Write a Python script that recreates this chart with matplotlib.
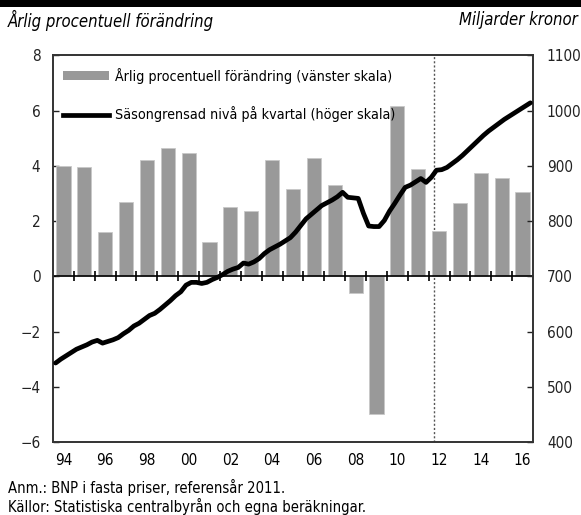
import numpy as np
import matplotlib
matplotlib.use("Agg")
import matplotlib.pyplot as plt
from matplotlib import font_manager
from matplotlib.font_manager import FontProperties
from matplotlib.patches import Patch, Rectangle
from matplotlib.lines import Line2D

# data
years = list(range(1994, 2017))
growth = [4.0, 3.95, 1.6, 2.7, 4.2, 4.65, 4.45, 1.25, 2.5, 2.35, 4.22, 3.15,
          4.3, 3.3, -0.6, -5.0, 6.15, 3.9, 1.63, 2.67, 3.75, 3.55, 3.05]
# seasonally adjusted quarterly level, 1994Q1 - 2016Q4
level = [543, 550, 556, 562,   568, 572, 576, 581,   584, 579, 582, 585,
         589, 596, 602, 610,   615, 622, 629, 633,   640, 648, 656, 665,
         672, 684, 689, 689,   687, 689, 694, 698,   703, 709, 713, 716,
         724, 722, 726, 732,   741, 748, 753, 758,   764, 770, 780, 792,
         804, 812, 820, 828,   833, 838, 844, 852,   843, 842, 841, 814,
         791, 790, 790, 801,   818, 832, 847, 861,   865, 871, 877, 870,
         879, 892, 893, 897,   904, 911, 919, 928,   937, 946, 955, 963,
         970, 977, 984, 990,   996, 1002, 1008, 1014]
forecast_start = 2011.76
xlabels = ["94", "96", "98", "00", "02", "04", "06", "08", "10", "12", "14", "16"]


def find_font(italic=False):
    # look for a narrow / condensed face, the reference uses a condensed font
    prefs = ["Liberation Sans Narrow", "DejaVu Sans", "Roboto", "Noto Sans", "Open Sans"]
    for fam in prefs:
        for f in font_manager.fontManager.ttflist:
            if f.name != fam:
                continue
            fn = f.fname.lower()
            if not ("narrow" in fn or "condensed" in fn or "cond" in fn):
                continue
            if "bold" in fn or "light" in fn or "mono" in fn or "semi" in fn or "extra" in fn:
                continue
            is_it = ("italic" in fn or "oblique" in fn)
            if is_it == italic:
                return FontProperties(fname=f.fname), True
    return FontProperties(family="DejaVu Sans", style="italic" if italic else "normal"), False


fp, has_narrow = find_font()
fpi, has_narrow_i = find_font(italic=True)
k = 1.0 if has_narrow else 0.8
ki = 1.0 if has_narrow_i else 0.8

bar_color = "#999999"

fig = plt.figure(figsize=(5.81, 5.15), dpi=100)
ax = fig.add_axes([0.0912, 0.1417, 0.8262, 0.7509])
ax2 = ax.twinx()

ax.bar(years, growth, width=0.68, color=bar_color, edgecolor="#c8c8c8", linewidth=0.6, zorder=2)
ax.set_xlim(1993.5, 2016.5)
ax.set_ylim(-6, 8)
ax.set_yticks(range(-6, 9, 2))

# zero line with crossing ticks between years
ax.axhline(0, color="black", lw=1.2, zorder=3)
bounds = np.arange(1994.5, 2016.5, 1)
ax.plot(bounds, np.zeros(len(bounds)), ls="none", marker="|", ms=7, mew=1.2, color="black", zorder=3)

ax.axvline(forecast_start, color="#555555", lw=1, ls=(0, (1.5, 1.5)), zorder=1)

qx = 1993.5 + 0.125 + 0.25 * np.arange(len(level))
ax2.plot(qx, level, color="black", lw=3.4, solid_capstyle="round", zorder=4)
ax2.set_ylim(400, 1100)
ax2.set_yticks(range(400, 1101, 100))

ax.set_zorder(ax2.get_zorder() - 1)
ax.patch.set_visible(True)
ax2.patch.set_visible(False)

ax.set_xticks(list(range(1994, 2017, 2)))
ax.set_xticklabels(xlabels)
ax.tick_params(axis="x", length=0, pad=8)
ax.tick_params(axis="y", direction="in", length=4, width=1, pad=9, colors="#222222")
ax2.tick_params(axis="y", direction="in", length=4, width=1, pad=10, colors="#222222")
for lab in ax.get_xticklabels() + ax.get_yticklabels() + ax2.get_yticklabels():
    lab.set_fontproperties(fp)
    lab.set_fontsize(11 * k)
for a in (ax, ax2):
    for s in a.spines.values():
        s.set_color("#333333")
        s.set_linewidth(1.2)

lfp = fp.copy()
lfp.set_size(10.3 * k)
handles = [Patch(facecolor=bar_color, edgecolor="none"),
           Line2D([], [], color="black", lw=3.4)]
ax2.legend(handles, ["Årlig procentuell förändring (vänster skala)",
                     "Säsongrensad nivå på kvartal (höger skala)"],
           loc="upper left", frameon=False, prop=lfp, handlelength=3.2,
           handleheight=0.65, handletextpad=0.4, labelspacing=1.6,
           borderaxespad=0, borderpad=0, bbox_to_anchor=(0.021, 0.968))

# header strip and titles
fig.patches.append(Rectangle((0, 1 - 7 / 515), 1, 7 / 515, transform=fig.transFigure,
                             facecolor="black", edgecolor="none"))
fig.text(8 / 581, 1 - 20 / 515, "Årlig procentuell förändring", fontproperties=fpi,
         fontsize=12 * ki, ha="left", va="center")
fig.text(578 / 581, 1 - 20 / 515, "Miljarder kronor", fontproperties=fpi,
         fontsize=12 * ki, ha="right", va="center")

fig.text(8 / 581, 1 - 487 / 515, "Anm.: BNP i fasta priser, referensår 2011.",
         fontproperties=fp, fontsize=10.6 * k, ha="left", va="center")
fig.text(8 / 581, 1 - 506 / 515, "Källor: Statistiska centralbyrån och egna beräkningar.",
         fontproperties=fp, fontsize=10.6 * k, ha="left", va="center")

fig.savefig("out.png", dpi=100)
